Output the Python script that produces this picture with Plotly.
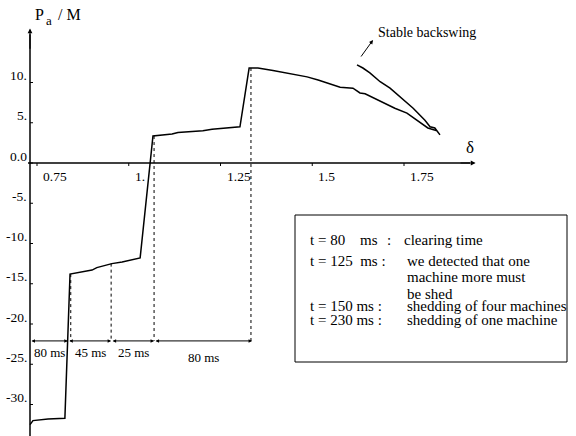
import plotly.graph_objects as go

# ---- data ----
delta = [0.731, 0.734, 0.739, 0.780, 0.826, 0.840, 0.900, 0.913, 0.927, 0.954, 0.982,
         1.031, 1.066, 1.118, 1.134, 1.202, 1.227, 1.295, 1.303, 1.328, 1.352, 1.393,
         1.418, 1.486, 1.516, 1.543, 1.576, 1.611, 1.630, 1.644, 1.666, 1.693, 1.725,
         1.758, 1.794, 1.815, 1.840, 1.848, 1.834, 1.821, 1.807, 1.775, 1.739, 1.712,
         1.685, 1.657, 1.638, 1.622]
pa = [-32.5, -32.3, -32.0, -31.8, -31.7, -13.8, -13.3, -13.0, -12.8, -12.5, -12.3,
      -11.8, 3.35, 3.6, 3.8, 4.0, 4.2, 4.5, 4.5, 11.8, 11.8, 11.5,
      11.3, 10.7, 10.3, 9.9, 9.4, 9.3, 8.7, 8.6, 8.1, 7.45, 6.8,
      6.2, 5.1, 4.35, 4.0, 3.5, 4.35, 4.5, 5.3, 6.8, 8.2, 9.3,
      10.1, 11.2, 11.8, 12.2]

event_delta = [0.842, 0.952, 1.069, 1.333]      # dotted markers
event_pa = [-13.8, -12.5, 3.35, 11.8]
span_edges = [0.731, 0.834, 0.952, 1.069, 1.336]
span_labels = ["80 ms", "45 ms", "25 ms", "80 ms"]
span_y = -22.1

x_ticks = [0.75, 1.0, 1.25, 1.5, 1.75]
x_tick_labels = ["0.75", "1.", "1.25", "1.5", "1.75"]
y_ticks = [10, 5, 0, -5, -10, -15, -20, -25, -30]
y_tick_labels = ["10.", "5.", "0.0", "-5.", "-10.", "-15.", "-20.", "-25.", "-30."]

legend_left = ["t = 125 ms :", "t = 150 ms :", "t = 230 ms :"]
legend_lines = ["clearing time", "we detected that one", "machine more must", "be shed",
                "shedding of four machines", "shedding of one machine"]

# ---- geometry ----
W, H = 576, 436
PXU = 367.0      # px per delta unit
PYU = 8.05       # px per P unit
X0PX, Y0PX = 37.0, 163.0   # pixel of delta=0.75, P=0
x_lo = 0.75 - X0PX / PXU
x_hi = x_lo + W / PXU
y_hi = Y0PX / PYU
y_lo = y_hi - H / PYU
AXIS_X = x_lo + 30 / PXU

def px(x):
    return x / W

def py(y):
    return 1 - y / H

FONT = "Liberation Serif"
fig = go.Figure()
fig.add_trace(go.Scatter(x=delta, y=pa, mode="lines",
                         line=dict(color="black", width=1.5), hoverinfo="skip"))
for xd, yd in zip(event_delta, event_pa):
    fig.add_trace(go.Scatter(x=[xd, xd], y=[yd, span_y], mode="lines",
                             line=dict(color="black", width=1, dash="dot"), hoverinfo="skip"))

shapes = []
ann = []
# axes
shapes.append(dict(type="line", xref="x", yref="y", x0=AXIS_X, x1=AXIS_X, y0=y_lo, y1=16.0,
                   line=dict(color="black", width=1.5)))
shapes.append(dict(type="line", xref="x", yref="y", x0=AXIS_X - 2 / PXU, x1=1.93, y0=0, y1=0,
                   line=dict(color="black", width=1.5)))
ann.append(dict(xref="x", yref="y", axref="x", ayref="y", x=AXIS_X, y=16.7, ax=AXIS_X, ay=14.0,
                text="", showarrow=True, arrowhead=2, arrowsize=0.8, arrowwidth=1.2, arrowcolor="black"))
ann.append(dict(xref="x", yref="y", axref="x", ayref="y", x=1.945, y=0, ax=1.90, ay=0,
                text="", showarrow=True, arrowhead=2, arrowsize=0.8, arrowwidth=1.2, arrowcolor="black"))
# ticks
TF = dict(family=FONT, size=13.5, color="black")
for t, lab in zip(x_ticks, x_tick_labels):
    shapes.append(dict(type="line", xref="x", yref="y", x0=t, x1=t, y0=0, y1=-3 / PYU,
                       line=dict(color="black", width=1)))
    ann.append(dict(xref="x", yref="y", x=t + 4 / PXU, y=0, yshift=-13, xanchor="left",
                    yanchor="middle", text=lab, showarrow=False, font=TF))
for t, lab in zip(y_ticks, y_tick_labels):
    shapes.append(dict(type="line", xref="x", yref="y", x0=AXIS_X, x1=AXIS_X + 3 / PXU, y0=t, y1=t,
                       line=dict(color="black", width=1)))
    ann.append(dict(xref="x", yref="y", x=AXIS_X - 1 / PXU, y=t, yshift=7, xanchor="right",
                    yanchor="middle", text=lab, showarrow=False, font=TF))
# spans
for i, lab in enumerate(span_labels):
    a, b = span_edges[i], span_edges[i + 1]
    ann.append(dict(xref="x", yref="y", axref="x", ayref="y", x=b, y=span_y, ax=a, ay=span_y,
                    text="", showarrow=True, arrowhead=2, arrowside="end+start", arrowsize=0.7,
                    arrowwidth=1, arrowcolor="black", standoff=0, startstandoff=0))
    ann.append(dict(xref="x", yref="y", x=(a + b) / 2 + (1 / PXU if i < 3 else 0), y=span_y,
                    yshift=-12 if i < 3 else -17, xanchor="center", yanchor="middle", text=lab,
                    showarrow=False, font=dict(family=FONT, size=13, color="black")))

# axis titles
TT = dict(family=FONT, size=16, color="black")
ann.append(dict(xref="paper", yref="paper", x=px(33), y=py(15), xanchor="left", yanchor="middle",
                text="P", showarrow=False, font=TT))
ann.append(dict(xref="paper", yref="paper", x=px(44), y=py(21), xanchor="left", yanchor="middle",
                text="a", showarrow=False, font=dict(family=FONT, size=13, color="black")))
ann.append(dict(xref="paper", yref="paper", x=px(56), y=py(15), xanchor="left", yanchor="middle",
                text="/ M", showarrow=False, font=TT))
ann.append(dict(xref="paper", yref="paper", x=px(470), y=py(148), xanchor="center", yanchor="middle",
                text="δ", showarrow=False, font=dict(family=FONT, size=17, color="black")))
ann.append(dict(xref="paper", yref="paper", x=px(376), y=py(32), xanchor="left", yanchor="middle",
                text="Stable backswing", showarrow=False, font=dict(family=FONT, size=14, color="black")))
ann.append(dict(xref="paper", yref="paper", axref="pixel", ayref="pixel", x=px(373), y=py(40),
                ax=-13, ay=18, text="", showarrow=True, arrowhead=2, arrowsize=0.8,
                arrowwidth=1, arrowcolor="black"))

# legend box
shapes.append(dict(type="rect", xref="paper", yref="paper", x0=px(295), x1=px(567), y0=py(362),
                   y1=py(215), line=dict(color="black", width=1)))
LF = dict(family=FONT, size=15, color="black")
def txt(x, y, s):
    ann.append(dict(xref="paper", yref="paper", x=px(x), y=py(y), xanchor="left", yanchor="middle",
                    text=s, showarrow=False, font=LF))
txt(308, 240, "t = 80")
txt(358, 240, "ms")
txt(385, 240, ":")
txt(402, 240, legend_lines[0])
txt(308, 261, "t = 125 ms :".replace(" ms", "  ms"))
txt(405, 261, legend_lines[1])
txt(405, 277, legend_lines[2])
txt(405, 294, legend_lines[3])
txt(308, 306, legend_left[1])
txt(405, 306, legend_lines[4])
txt(308, 320, legend_left[2])
txt(405, 320, legend_lines[5])

fig.update_layout(width=W, height=H, autosize=False, margin=dict(l=0, r=0, t=0, b=0, pad=0),
                  paper_bgcolor="white", plot_bgcolor="white", showlegend=False,
                  xaxis=dict(range=[x_lo, x_hi], visible=False, fixedrange=True),
                  yaxis=dict(range=[y_lo, y_hi], visible=False, fixedrange=True),
                  shapes=shapes, annotations=ann)
fig.write_html("out.html", config={"displayModeBar": False},
               post_script="document.body.style.margin='0px';document.body.style.padding='0px';")
